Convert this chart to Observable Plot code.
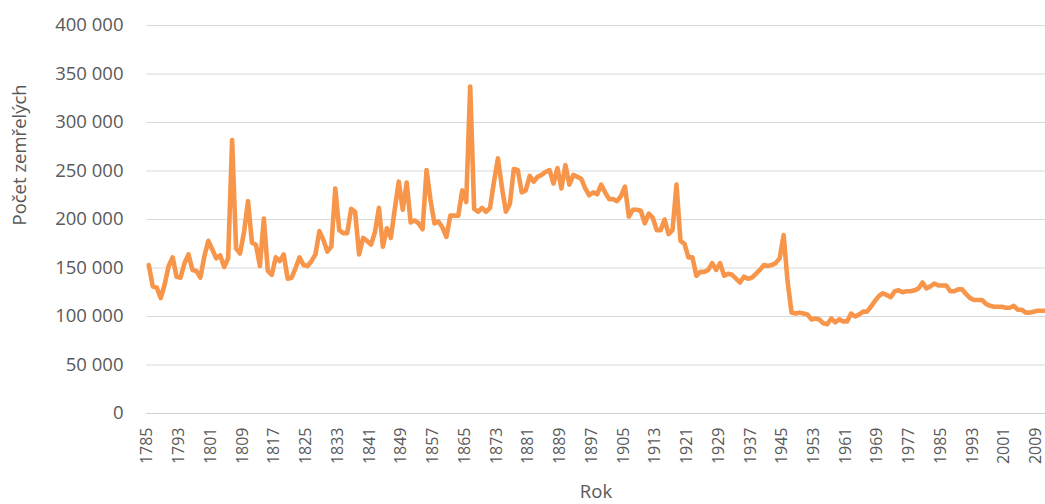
<!DOCTYPE html>
<html>
<head>
<meta charset="utf-8">
<script src="https://cdn.jsdelivr.net/npm/d3@7"></script>
<script src="https://cdn.jsdelivr.net/npm/@observablehq/plot@0.6"></script>
<style>
  html, body { margin: 0; padding: 0; background: #fff; }
  #chart svg { display: block; }
</style>
</head>
<body>
<div id="chart"></div>
<script>
// Years 1785–2011
const firstYear = 1785;
const lastYear = 2011;
const years = d3.range(firstYear, lastYear + 1);

// Number of deaths per year
const deaths = [
  153000, 131000, 130000, 119000, 133000, 152000, 161000, 141000, 140000, 155000, // 1785-1794
  164000, 148000, 147000, 140000, 162000, 178000, 169000, 160000, 163000, 151000, // 1795-1804
  160000, 282000, 170000, 165000, 187000, 219000, 176000, 174000, 152000, 201000, // 1805-1814
  147000, 143000, 161000, 157000, 164000, 139000, 140000, 150000, 161000, 153000, // 1815-1824
  152000, 157000, 164000, 188000, 179000, 167000, 172000, 232000, 189000, 186000, // 1825-1834
  186000, 211000, 208000, 164000, 181000, 178000, 174000, 187000, 212000, 172000, // 1835-1844
  191000, 181000, 211000, 239000, 210000, 238000, 197000, 199000, 196000, 190000, // 1845-1854
  251000, 220000, 196000, 198000, 192000, 182000, 204000, 204000, 204000, 230000, // 1855-1864
  218000, 337000, 211000, 208000, 212000, 208000, 212000, 239000, 263000, 233000, // 1865-1874
  208000, 216000, 252000, 251000, 228000, 230000, 245000, 239000, 244000, 246000, // 1875-1884
  249000, 251000, 237000, 253000, 232000, 256000, 236000, 246000, 244000, 242000, // 1885-1894
  232000, 225000, 228000, 226000, 236000, 228000, 221000, 221000, 219000, 224000, // 1895-1904
  234000, 203000, 210000, 210000, 209000, 196000, 206000, 202000, 189000, 189000, // 1905-1914
  200000, 185000, 189000, 236000, 178000, 175000, 161000, 161000, 142000, 146000, // 1915-1924
  146000, 148000, 155000, 148000, 155000, 142000, 144000, 143000, 139000, 135000, // 1925-1934
  141000, 139000, 140000, 144000, 148000, 153000, 152000, 153000, 155000, 160000, // 1935-1944
  184000, 136000, 104000, 103000, 104000, 103000, 102000, 97000, 98000, 97000,    // 1945-1954
  93000, 92000, 98000, 94000, 97000, 95000, 95000, 103000, 100000, 102000,        // 1955-1964
  105000, 105000, 110000, 116000, 121000, 124000, 122000, 120000, 126000, 127000, // 1965-1974
  125000, 126000, 126000, 127000, 129000, 135000, 129000, 131000, 134000, 132000, // 1975-1984
  132000, 132000, 126000, 126000, 128000, 128000, 123000, 119000, 117000, 117000, // 1985-1994
  117000, 113000, 111000, 110000, 110000, 110000, 109000, 109000, 111000, 107000, // 1995-2004
  107000, 104000, 104000, 105000, 106000, 106000, 106000                          // 2005-2011
];

// Tick labels
const xTicks = d3.range(1785, 2010, 8);
const yTicks = d3.range(0, 400001, 50000);
const yTitle = "Počet zemřelých";
const xTitle = "Rok";

const data = years.map((year, i) => ({year, deaths: deaths[i]}));
const czFormat = d3.formatLocale({decimal: ",", thousands: "\u00a0", grouping: [3], currency: ["", " Kč"]}).format(",d");

const chart = Plot.plot({
  width: 1045,
  height: 504,
  marginLeft: 146,
  marginRight: 0,
  marginTop: 25,
  marginBottom: 91,
  style: {fontFamily: "'Open Sans', sans-serif", color: "#595959", background: "#fff"},
  x: {domain: [1784.42, lastYear], ticks: xTicks},
  y: {domain: [0, 400000], ticks: yTicks},
  marks: [
    Plot.gridY(yTicks, {stroke: "#d9d9d9", strokeOpacity: 1, strokeWidth: 1}),
    Plot.ruleY([0], {stroke: "#d0d0d0", strokeWidth: 1}),
    Plot.axisY(yTicks, {tickSize: 0, tickPadding: 23, tickFormat: czFormat, fontSize: 18.5, label: null}),
    Plot.axisX(xTicks, {tickSize: 0, tickPadding: 14, tickRotate: -90, tickFormat: d => String(d), fontSize: 16, dx: -1.5, label: null}),
    Plot.line(data, {x: "year", y: "deaths", stroke: "#f7964a", strokeWidth: 4.6, strokeLinejoin: "round", strokeLinecap: "round"}),
    Plot.text([yTitle], {frameAnchor: "left", dx: -126, dy: 6, rotate: -90, fontSize: 18.5, fill: "#595959"}),
    Plot.text([xTitle], {frameAnchor: "bottom", dy: 84, fontSize: 18.5, fill: "#595959"})
  ]
});

document.getElementById("chart").appendChild(chart);
</script>
</body>
</html>
